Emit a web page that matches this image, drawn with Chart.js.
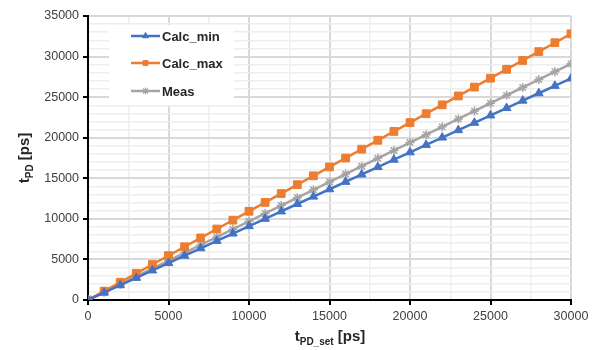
<!DOCTYPE html>
<html><head><meta charset="utf-8">
<script src="https://cdn.jsdelivr.net/npm/chart.js@4/dist/chart.umd.min.js"></script>
<style>html,body{margin:0;padding:0;background:#fff;}canvas{display:block;}</style>
</head><body>
<canvas id="c" width="604" height="350"></canvas>
<script>
const tpdSet = [0,1000,2000,3000,4000,5000,6000,7000,8000,9000,10000,11000,12000,13000,14000,15000,16000,17000,18000,19000,20000,21000,22000,23000,24000,25000,26000,27000,28000,29000,30000];
const calcMin = [0,910,1820,2730,3640,4550,5460,6370,7280,8190,9100,10010,10920,11830,12740,13650,14560,15470,16380,17290,18200,19110,20020,20930,21840,22750,23660,24570,25480,26390,27300];
const calcMax = [0,1093,2187,3280,4373,5467,6560,7653,8747,9840,10933,12027,13120,14213,15307,16400,17493,18587,19680,20773,21867,22960,24053,25147,26240,27333,28427,29520,30613,31707,32800];
const meas = [0,960,1930,2900,3870,4840,5810,6790,7760,8730,9700,10670,11640,12610,13580,14550,15520,16490,17460,18430,19400,20370,21340,22310,23280,24250,25220,26190,27160,28130,29100];
const seriesNames = ['Calc_min','Calc_max','Meas'];
const xTickLabels = [0,5000,10000,15000,20000,25000,30000];
const yTickLabels = [0,5000,10000,15000,20000,25000,30000,35000];

const colors = ['#4472C4','#ED7D31','#A5A5A5'];
const styles = ['triangle','rect','star'];
const radii = [5,5.5,4.5];
const FONT = '"Liberation Sans", Arial, sans-serif';

function mk(i, arr){
  return {label: seriesNames[i], data: tpdSet.map((x,k)=>({x:x,y:arr[k]})),
    borderColor: colors[i], backgroundColor: colors[i], borderWidth: 2.5,
    pointStyle: styles[i], pointRadius: radii[i], pointBorderWidth: i===2?1.5:1,
    pointBorderColor: colors[i], pointBackgroundColor: colors[i], tension:0};
}

const legendPlugin = {
  id:'customLegend',
  beforeDatasetsDraw(chart){
    const ctx = chart.ctx;
    ctx.save();
    ctx.fillStyle = '#fff';
    ctx.fillRect(109, 25, 125, 80);
    ctx.restore();
  },
  afterDraw(chart){
    const ctx = chart.ctx;
    ctx.save();
    const ys = [36, 63, 91];
    for (let i=0;i<3;i++){
      const y = ys[i];
      ctx.strokeStyle = colors[i]; ctx.lineWidth = 2.5;
      ctx.beginPath(); ctx.moveTo(131,y); ctx.lineTo(160,y); ctx.stroke();
      ctx.fillStyle = colors[i]; ctx.strokeStyle = colors[i]; ctx.lineWidth = i===2?1.2:1;
      Chart.helpers.drawPoint(ctx, {pointStyle: styles[i], radius: 3.5, rotation:0, borderWidth: i===2?1.2:1}, 145.5, y);
      ctx.fillStyle = '#262626';
      ctx.font = 'bold 13px ' + FONT;
      ctx.textBaseline = 'middle'; ctx.textAlign = 'left';
      ctx.fillText(seriesNames[i], 162, y+1);
    }
    ctx.fillStyle = '#262626';
    const xt = [['t','bold 15px '],['PD_set','bold 10px '],[' [ps]','bold 15px ']];
    let w = 0; xt.forEach(p=>{ctx.font=p[1]+FONT; w+=ctx.measureText(p[0]).width;});
    let x0 = 330 - w/2; const yb = 341;
    ctx.textBaseline='alphabetic'; ctx.textAlign='left';
    xt.forEach((p,j)=>{ctx.font=p[1]+FONT; ctx.fillText(p[0], x0, j===1?yb+4:yb); x0+=ctx.measureText(p[0]).width;});
    ctx.save();
    ctx.translate(29, 158); ctx.rotate(-Math.PI/2);
    const yt = [['t','bold 15px '],['PD','bold 10px '],[' [ps]','bold 15px ']];
    w = 0; yt.forEach(p=>{ctx.font=p[1]+FONT; w+=ctx.measureText(p[0]).width;});
    x0 = -w/2;
    yt.forEach((p,j)=>{ctx.font=p[1]+FONT; ctx.fillText(p[0], x0, j===1?4:0); x0+=ctx.measureText(p[0]).width;});
    ctx.restore();
    ctx.restore();
  }
};

new Chart(document.getElementById('c'), {
  type:'line',
  data:{datasets:[mk(0,calcMin), mk(1,calcMax), mk(2,meas)]},
  options:{
    responsive:false, animation:false, devicePixelRatio:1,
    layout:{padding:{top:16,right:33,left:0,bottom:0}},
    plugins:{legend:{display:false}, tooltip:{enabled:false}},
    scales:{
      x:{type:'linear', min:0, max:30000,
        afterBuildTicks(s){ s.ticks = []; for(let v=0; v<=30000; v+=2500) s.ticks.push({value:v}); },
        afterFit(s){ s.height = 50; },
        ticks:{autoSkip:false, maxRotation:0, padding:4, color:'#404040', font:{family:FONT,size:12.5},
          callback:(v)=> xTickLabels.includes(v) ? String(v) : ''},
        grid:{color:(c)=> (c.tick && c.tick.value%5000===0) ? '#d9d9d9' : '#eeeeee',
          lineWidth:(c)=> (c.tick && c.tick.value%5000===0) ? 2 : 1.5,
          tickColor:(c)=> (c.tick && c.tick.value%5000===0) ? '#000' : 'rgba(0,0,0,0)', tickLength:5, drawTicks:true},
        border:{color:'#000', width:2}
      },
      y:{type:'linear', min:0, max:35000,
        afterBuildTicks(s){ s.ticks = []; for(let v=0; v<=35000; v+=1000) s.ticks.push({value:v}); },
        afterFit(s){ s.width = 88; },
        ticks:{autoSkip:false, padding:4, color:'#404040', font:{family:FONT,size:12.5},
          callback:(v)=> yTickLabels.includes(v) ? String(v) : ''},
        grid:{color:(c)=> (c.tick && c.tick.value%5000===0) ? '#d9d9d9' : '#eeeeee',
          lineWidth:(c)=> (c.tick && c.tick.value%5000===0) ? 2 : 1.5,
          tickColor:(c)=> (c.tick && c.tick.value%5000===0) ? '#000' : 'rgba(0,0,0,0)', tickLength:5},
        border:{color:'#000', width:2}
      }
    }
  },
  plugins:[legendPlugin]
});
</script>
</body></html>
